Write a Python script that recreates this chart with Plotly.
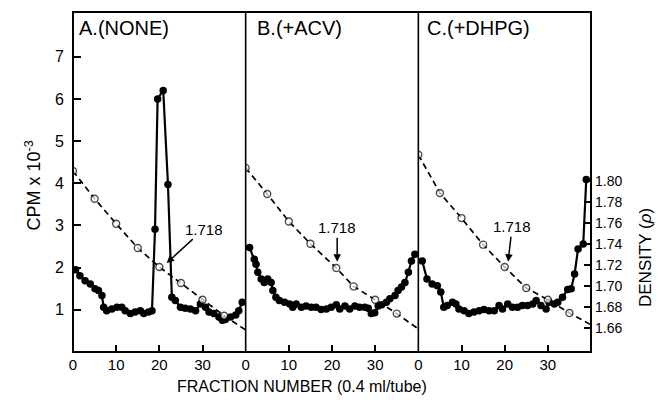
import plotly.graph_objects as go

# ---------------- data ----------------
# CPM x 10^-3 (filled circles), fraction numbers per panel
a_frac = [0.6,1.6,2.8,4.0,5.1,5.9,6.7,7.1,7.8,9.0,10.2,11.3,12.1,13.3,14.4,15.6,16.4,17.5,18.3,19.0,
          19.6,20.9,22.0,22.9,23.7,24.9,26.0,27.2,28.4,29.5,30.7,31.5,32.6,33.8,34.6,35.3,36.5,37.7,38.4,39.2]
a_cpm = [1.95,1.81,1.69,1.61,1.50,1.46,1.34,1.06,0.98,1.02,1.06,1.06,0.98,0.91,0.95,0.98,0.91,0.95,0.98,2.91,
         6.0,6.2,3.97,1.30,1.22,1.06,1.04,1.02,0.98,1.14,1.06,0.95,0.91,0.83,0.75,0.77,0.83,0.88,0.98,1.18]

b_frac = [0.9,2.0,2.4,2.8,3.6,4.3,5.1,5.9,6.3,7.0,7.8,9.0,10.2,10.9,11.7,12.9,14.0,15.2,16.3,17.5,
          18.7,19.8,21.0,21.8,23.0,24.1,25.3,26.4,27.6,28.4,29.1,29.9,30.7,31.5,32.6,33.4,34.6,35.3,36.1,36.9,
          37.7,38.4,39.2]
b_cpm = [2.48,2.20,2.08,1.89,1.73,1.65,1.73,1.65,1.46,1.30,1.22,1.18,1.14,1.06,1.14,1.06,1.09,1.06,1.06,1.01,
         1.02,1.06,1.12,1.02,1.09,1.02,1.09,1.06,1.06,1.04,0.91,0.93,1.09,1.12,1.18,1.26,1.34,1.46,1.54,1.65,
         1.89,2.16,2.32]

c_frac = [0.9,2.0,3.2,4.4,5.2,5.9,6.7,7.9,8.7,9.4,10.6,11.7,12.9,14.1,15.2,16.4,17.6,18.7,19.5,20.7,
          21.8,23.0,24.1,25.3,26.5,27.3,28.4,29.6,30.3,31.5,32.3,33.4,34.6,35.4,36.2,37.0,38.2,38.9]
c_cpm = [2.16,1.73,1.61,1.57,1.42,1.06,1.10,1.18,1.14,1.02,0.98,0.91,0.95,0.98,1.01,0.98,0.98,1.10,1.02,1.14,
         1.06,1.06,1.10,1.10,1.14,1.22,1.10,1.02,1.18,1.14,1.18,1.30,1.48,1.50,1.85,2.44,2.56,4.09]

# Density (open circles, dashed); last value is the end of the dashed line (no circle)
a_dfrac = [0, 5, 10, 15, 20, 25, 30, 35, 40]
a_dens = [1.810, 1.7835, 1.7596, 1.7364, 1.7183, 1.703, 1.687, 1.6717, 1.658]
b_dfrac = [0, 5, 10, 15, 21, 25, 30, 35, 40]
b_dens = [1.813, 1.788, 1.7618, 1.7405, 1.7173, 1.6997, 1.687, 1.6737, 1.659]
c_dfrac = [0, 5, 10, 15, 20, 25, 30, 35, 40]
c_dens = [1.8255, 1.789, 1.765, 1.7396, 1.7182, 1.6982, 1.687, 1.6743, 1.663]

panel_titles = ["A.(NONE)", "B.(+ACV)", "C.(+DHPG)"]
x_ticks = [0, 10, 20, 30]
cpm_ticks = [1, 2, 3, 4, 5, 6, 7]
dens_ticks = [1.66, 1.68, 1.70, 1.72, 1.74, 1.76, 1.78, 1.80]
dens_ticktext = ["1.66", "1.68", "1.70", "1.72", "1.74", "1.76", "1.78", "1.80"]
marker_label = "1.718"
# arrow tips for "1.718" labels: (fraction, density)
arrow_tips = [(21.7, 1.722), (21.2, 1.7233), (20.8, 1.7233)]

# ---------------- figure ----------------
FONT = "Liberation Sans"
fig = go.Figure()
panels = [
    ("x", a_frac, a_cpm, a_dfrac, a_dens),
    ("x2", b_frac, b_cpm, b_dfrac, b_dens),
    ("x3", c_frac, c_cpm, c_dfrac, c_dens),
]
for xa, fx, fy, dx, dy in panels:
    sizes = [7] * (len(dx) - 1) + [0]
    fig.add_trace(go.Scatter(
        x=dx, y=dy, xaxis=xa, yaxis="y2", mode="lines+markers",
        line=dict(color="black", width=1.7, dash="6px,4px"),
        marker=dict(size=sizes, color="white", line=dict(color="black", width=1.4)),
        showlegend=False, hoverinfo="skip"))
    fig.add_trace(go.Scatter(
        x=fx, y=fy, xaxis=xa, yaxis="y", mode="lines+markers",
        line=dict(color="black", width=2.2),
        marker=dict(size=7.5, color="black"),
        showlegend=False))

xcommon = dict(range=[0, 40], tickvals=x_ticks, ticks="inside", ticklen=7, tickwidth=1.5,
               tickcolor="black", showgrid=False, zeroline=False, showline=False,
               anchor="y", tickfont=dict(family=FONT, size=15, color="black"),
               ticklabelstandoff=2)
fig.update_layout(
    width=658, height=400,
    margin=dict(l=73, r=67, t=12, b=48),
    paper_bgcolor="white", plot_bgcolor="white",
    xaxis=dict(domain=[0, 1/3], **xcommon),
    xaxis2=dict(domain=[1/3, 2/3], **xcommon),
    xaxis3=dict(domain=[2/3, 1], **xcommon),
    yaxis=dict(domain=[0, 1], range=[0, 8.06], tickvals=cpm_ticks, ticks="inside",
               ticklen=8, tickwidth=1.5, tickcolor="black", showgrid=False, zeroline=False,
               showline=False, anchor="x", ticklabelstandoff=8,
               tickfont=dict(family=FONT, size=16, color="black")),
    yaxis2=dict(overlaying="y", side="right", anchor="x3", range=[1.637, 1.962],
                tickvals=dens_ticks, ticktext=dens_ticktext, ticks="inside", ticklen=7,
                tickwidth=1.5, tickcolor="black", showgrid=False, zeroline=False,
                showline=False, ticklabelstandoff=3,
                tickfont=dict(family=FONT, size=14, color="black")),
    shapes=[
        dict(type="rect", xref="paper", yref="paper", x0=0, x1=1, y0=0, y1=1,
             line=dict(color="black", width=2)),
        dict(type="line", xref="paper", yref="paper", x0=1/3, x1=1/3, y0=0, y1=1,
             line=dict(color="black", width=1.6)),
        dict(type="line", xref="paper", yref="paper", x0=2/3, x1=2/3, y0=0, y1=1,
             line=dict(color="black", width=1.6)),
    ],
)

annots = []
title_x = [0.0077, 0.351, 0.6795]
for t, xp in zip(panel_titles, title_x):
    annots.append(dict(text=t, xref="paper", yref="paper", x=xp, y=0.953,
                       xanchor="left", yanchor="middle", showarrow=False,
                       font=dict(family=FONT, size=20, color="black")))
offsets = [(37, -34), (0, -34), (4, -35)]
for xa, (tx, ty), (ax, ay) in zip(["x", "x2", "x3"], arrow_tips, offsets):
    annots.append(dict(text=marker_label, xref=xa, yref="y2", x=tx, y=ty,
                       ax=ax, ay=ay, showarrow=True, arrowhead=2, arrowsize=1,
                       arrowwidth=1.5, arrowcolor="black",
                       font=dict(family=FONT, size=15, color="black")))
annots.append(dict(text="CPM x 10<sup>-3</sup>", xref="paper", yref="paper",
                   x=-0.077, y=0.49, textangle=-90, showarrow=False,
                   xanchor="center", yanchor="middle",
                   font=dict(family=FONT, size=18, color="black")))
annots.append(dict(text="DENSITY (<i>ρ</i>)", xref="paper", yref="paper",
                   x=1.104, y=0.279, textangle=-90, showarrow=False,
                   xanchor="center", yanchor="middle",
                   font=dict(family=FONT, size=17, color="black")))
annots.append(dict(text="FRACTION NUMBER (0.4 ml/tube)", xref="paper", yref="paper",
                   x=0.442, y=-0.1, showarrow=False, xanchor="center", yanchor="middle",
                   font=dict(family=FONT, size=16, color="black")))
fig.update_layout(annotations=annots)

fig.write_html("out.html")
